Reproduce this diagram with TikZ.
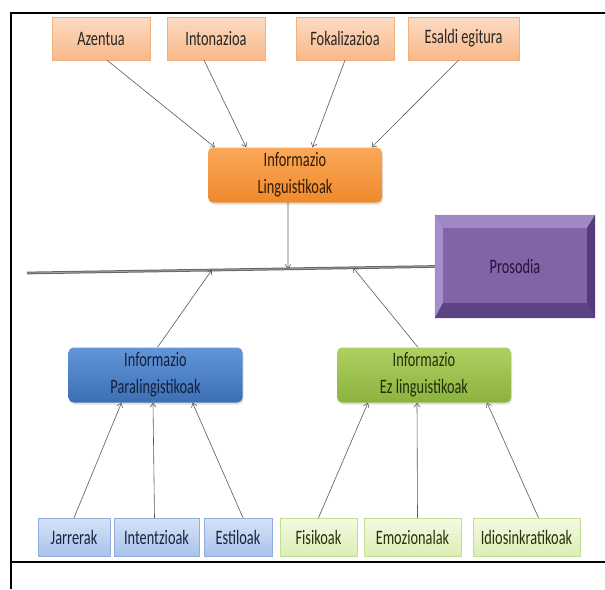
\documentclass[tikz,border=0pt]{standalone}
\usepackage{fontspec}
\setmainfont{Carlito}[FakeStretch=0.7]
\usepackage{tikz}
\usetikzlibrary{arrows.meta,calc,shadows}
\usepackage{xcolor}
\definecolor{peachtop}{HTML}{FCDCC3}
\definecolor{peachbot}{HTML}{F8B888}
\definecolor{peachedge}{HTML}{F0B080}
\definecolor{orangetop}{HTML}{FBA85A}
\definecolor{orangebot}{HTML}{EE8A2C}
\definecolor{bluetop}{HTML}{6396D8}
\definecolor{bluebot}{HTML}{3C6EB4}
\definecolor{greentop}{HTML}{AED062}
\definecolor{greenbot}{HTML}{8CB23E}
\definecolor{lbluetop}{HTML}{D6E3F8}
\definecolor{lbluebot}{HTML}{A9C2EB}
\definecolor{lblueedge}{HTML}{93AEDD}
\definecolor{lgreentop}{HTML}{F4FAE4}
\definecolor{lgreenbot}{HTML}{DCEEB4}
\definecolor{lgreenedge}{HTML}{C5DD93}
\definecolor{prosmain}{HTML}{8064A6}
\definecolor{proslight}{HTML}{A68ECB}
\definecolor{prosdark}{HTML}{5E4384}
\definecolor{prosdeep}{HTML}{553A7A}
\definecolor{prostext}{HTML}{24133E}

\begin{document}
\begin{tikzpicture}[x=1pt, y=-1pt, >={Straight Barb[length=4pt,width=6pt]},
  every node/.style={font=\fontsize{20.5}{27}\selectfont},
  tbox/.style={draw=peachedge, top color=peachtop, bottom color=peachbot,
    minimum height=43pt, inner sep=2pt, text=black!85},
  bigbox/.style={rounded corners=5pt, minimum width=174pt, minimum height=55pt,
    align=center, inner sep=2pt,
    drop shadow={opacity=0.25, shadow xshift=1pt, shadow yshift=-2pt}},
  bbox/.style={draw=lblueedge, top color=lbluetop, bottom color=lbluebot,
    minimum height=38pt, inner sep=2pt, text={rgb,255:red,20;green,36;blue,66}},
  gbox/.style={draw=lgreenedge, top color=lgreentop, bottom color=lgreenbot,
    minimum height=38pt, inner sep=2pt, text={rgb,255:red,36;green,50;blue,12}},
  arr/.style={->, draw=black!65, line width=0.6pt}]
  \useasboundingbox (0,0) rectangle (605,589);
  % frame
  \draw[line width=2.5pt] (605,13) -- (11,13) -- (11,589);
  \draw[line width=2.5pt] (11,562) -- (605,562);

  % top row
  \node[tbox, minimum width=98pt] (azentua) at (101,38.5) {Azentua};
  \node[tbox, minimum width=98pt] (intonazioa) at (216,38.5) {Intonazioa};
  \node[tbox, minimum width=98pt] (fokalizazioa) at (345,38.5) {Fokalizazioa};
  \node[tbox, minimum width=111pt] (esaldi) at (463.5,38.5) {Esaldi egitura};

  % middle boxes
  \node[bigbox, top color=orangetop, bottom color=orangebot,
    text={rgb,255:red,52;green,28;blue,0}] (ling) at (295,175) {Informazio\\Linguistikoak};
  \node[bigbox, top color=bluetop, bottom color=bluebot,
    text={rgb,255:red,18;green,32;blue,62}] (para) at (155.5,375) {Informazio\\Paralingistikoak};
  \node[bigbox, top color=greentop, bottom color=greenbot,
    text={rgb,255:red,34;green,48;blue,10}] (ezling) at (424,375) {Informazio\\Ez linguistikoak};

  % prosodia
  \node[fill=prosmain, minimum width=160pt, minimum height=103pt, inner sep=0pt] (prosodia) at (515,266.5) {};
  \fill[proslight!85!prosmain] (prosodia.north west) -- (prosodia.north east)
    -- ([xshift=-8pt,yshift=-13pt]prosodia.north east) -- ([xshift=8pt,yshift=-13pt]prosodia.north west) -- cycle;
  \fill[proslight] (prosodia.north west) -- ([xshift=8pt,yshift=-13pt]prosodia.north west)
    -- ([xshift=8pt,yshift=15pt]prosodia.south west) -- (prosodia.south west) -- cycle;
  \fill[prosdark] (prosodia.south west) -- ([xshift=8pt,yshift=15pt]prosodia.south west)
    -- ([xshift=-8pt,yshift=15pt]prosodia.south east) -- (prosodia.south east) -- cycle;
  \fill[prosdeep] (prosodia.north east) -- (prosodia.south east)
    -- ([xshift=-8pt,yshift=15pt]prosodia.south east) -- ([xshift=-8pt,yshift=-13pt]prosodia.north east) -- cycle;
  \node[text=prostext] at (prosodia.center) {Prosodia};

  % axis
  \coordinate (lineL) at (27,273);
  \draw[draw=black!60, double=black!35, double distance=0.7pt, line width=1pt] (lineL) -- (prosodia.west);

  % bottom row
  \node[bbox, minimum width=72pt] (jarrerak) at (74,537) {Jarrerak};
  \node[bbox, minimum width=85pt] (intentzioak) at (156.5,537) {Intentzioak};
  \node[bbox, minimum width=68pt] (estiloak) at (238,537) {Estiloak};
  \node[gbox, minimum width=77pt] (fisikoak) at (318.5,537) {Fisikoak};
  \node[gbox, minimum width=97pt] (emozionalak) at (412.5,537) {Emozionalak};
  \node[gbox, minimum width=107pt] (idiosinkratikoak) at (526.5,537) {Idiosinkratikoak};

  % arrows
  \draw[arr] ([xshift=6pt]azentua.south) -- ($(ling.north west)!0.04!(ling.north east)$);
  \draw[arr] ([xshift=-12pt]intonazioa.south) -- ($(ling.north west)!0.22!(ling.north east)$);
  \draw[arr] (fokalizazioa.south) -- ($(ling.north west)!0.60!(ling.north east)$);
  \draw[arr] ([xshift=-5pt]esaldi.south) -- ($(ling.north west)!0.94!(ling.north east)$);
  \draw[arr] ([xshift=-7pt]ling.south) -- ($(lineL)!0.64!(prosodia.west)$);
  \draw[arr] ([xshift=2pt]para.north) -- ($(lineL)!0.453!(prosodia.west)$);
  \draw[arr] ([xshift=-6pt]ezling.north) -- ($(lineL)!0.80!(prosodia.west)$);
  \draw[arr] (jarrerak.north) -- ([xshift=-34pt]para.south);
  \draw[arr] ([xshift=-2pt]intentzioak.north) -- ([xshift=-2.5pt]para.south);
  \draw[arr] ([xshift=5pt]estiloak.north) -- ([xshift=37pt]para.south);
  \draw[arr] (fisikoak.north) -- ([xshift=-56pt]ezling.south);
  \draw[arr] ([xshift=5pt]emozionalak.north) -- ([xshift=-7pt]ezling.south);
  \draw[arr] ([xshift=12pt]idiosinkratikoak.north) -- ([xshift=63pt]ezling.south);
\end{tikzpicture}
\end{document}
